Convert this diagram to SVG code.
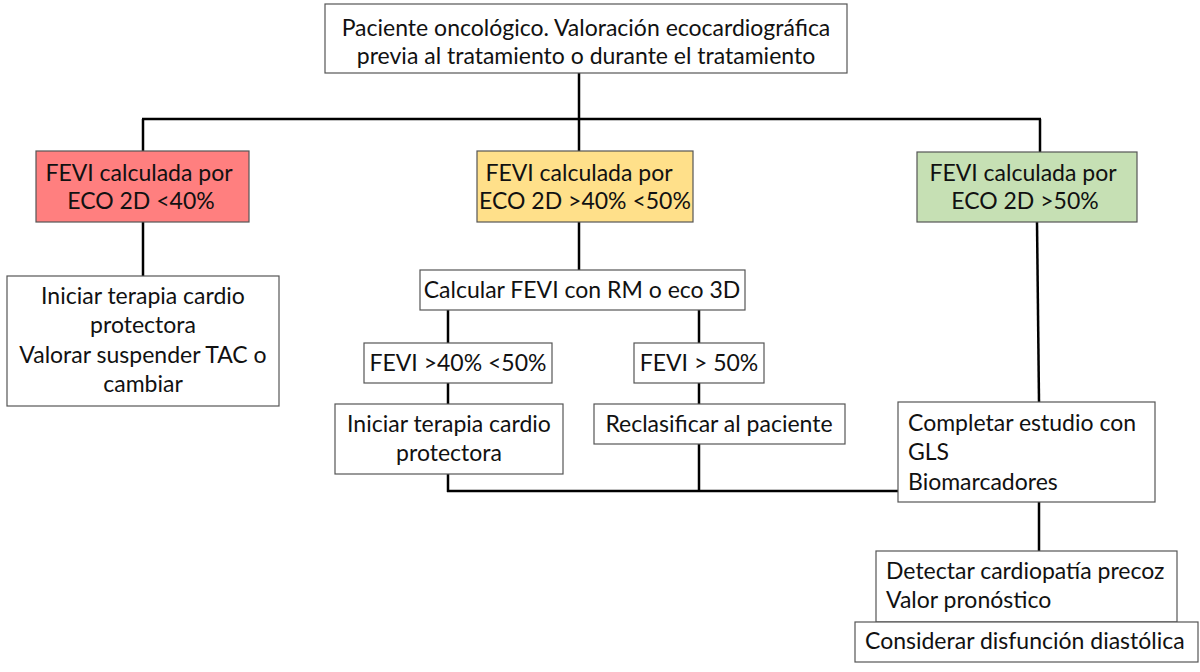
<svg xmlns="http://www.w3.org/2000/svg" width="1200" height="672" viewBox="0 0 1200 672">
<style>
.box{fill:#fff;stroke:#555;stroke-width:1.2}
.red{fill:#FF7F7F}
.yel{fill:#FFE08A}
.grn{fill:#C6E0B4}
text{font-family:Lato,"Liberation Sans",sans-serif;font-size:23px;fill:#111}
.c{text-anchor:middle}
.conn line{stroke:#000;stroke-width:2.5;stroke-linecap:butt}
</style>
<rect width="1200" height="672" fill="#fff"/>
<g class="conn" id="connectors">
<line x1="579" y1="73" x2="579" y2="120"/>
<line x1="142" y1="119" x2="1041" y2="119"/>
<line x1="143" y1="119" x2="143" y2="151"/>
<line x1="579" y1="119" x2="579" y2="151"/>
<line x1="1040" y1="119" x2="1040" y2="152"/>
<line x1="143" y1="222" x2="143" y2="276"/>
<line x1="579" y1="222" x2="579" y2="270"/>
<line x1="448" y1="310" x2="448" y2="343"/>
<line x1="699" y1="310" x2="699" y2="343"/>
<line x1="448" y1="383" x2="448" y2="404"/>
<line x1="699" y1="383" x2="699" y2="404"/>
<line x1="448" y1="474" x2="448" y2="492"/>
<line x1="699" y1="444" x2="699" y2="492"/>
<line x1="447" y1="491" x2="898" y2="491"/>
<line x1="1037" y1="222" x2="1039" y2="402"/>
<line x1="1039" y1="502" x2="1039" y2="551"/>
</g>
<g id="n-top">
<rect class="box" x="325" y="4" width="522" height="69"/>
<text class="c" x="586" y="36">Paciente oncológico. Valoración ecocardiográfica</text>
<text class="c" x="586" y="64">previa al tratamiento o durante el tratamiento</text>
</g>
<g id="n-red">
<rect class="box red" x="36" y="151" width="213" height="71"/>
<text class="c" x="139" y="181">FEVI calculada por</text>
<text class="c" x="141" y="209">ECO 2D &lt;40%</text>
</g>
<g id="n-yellow">
<rect class="box yel" x="477" y="151" width="216" height="71"/>
<text class="c" x="579" y="181">FEVI calculada por</text>
<text class="c" x="585" y="209">ECO 2D &gt;40% &lt;50%</text>
</g>
<g id="n-green">
<rect class="box grn" x="917" y="152" width="220" height="70"/>
<text class="c" x="1023" y="181">FEVI calculada por</text>
<text class="c" x="1025" y="209">ECO 2D &gt;50%</text>
</g>
<g id="n-left">
<rect class="box" x="7" y="276" width="272" height="130"/>
<text class="c" x="143" y="304">Iniciar terapia cardio</text>
<text class="c" x="143" y="333">protectora</text>
<text class="c" x="143" y="363">Valorar suspender TAC o</text>
<text class="c" x="143" y="392">cambiar</text>
</g>
<g id="n-calc">
<rect class="box" x="420" y="270" width="325" height="40"/>
<text class="c" x="582" y="298">Calcular FEVI con RM o eco 3D</text>
</g>
<g id="n-f4050">
<rect class="box" x="364" y="343" width="188" height="40"/>
<text class="c" x="458" y="371">FEVI &gt;40% &lt;50%</text>
</g>
<g id="n-f50">
<rect class="box" x="634" y="343" width="130" height="40"/>
<text class="c" x="699" y="371">FEVI &gt; 50%</text>
</g>
<g id="n-iniciar">
<rect class="box" x="335" y="404" width="228" height="70"/>
<text class="c" x="449" y="432">Iniciar terapia cardio</text>
<text class="c" x="449" y="461">protectora</text>
</g>
<g id="n-reclas">
<rect class="box" x="594" y="404" width="251" height="40"/>
<text class="c" x="719" y="432">Reclasificar al paciente</text>
</g>
<g id="n-completar">
<rect class="box" x="898" y="402" width="257" height="100"/>
<text x="908" y="431">Completar estudio con</text>
<text x="908" y="460">GLS</text>
<text x="908" y="490">Biomarcadores</text>
</g>
<g id="n-detectar">
<rect class="box" x="876" y="551" width="301" height="71"/>
<text x="886" y="579">Detectar cardiopatía precoz</text>
<text x="886" y="608">Valor pronóstico</text>
</g>
<g id="n-considerar">
<rect class="box" x="855" y="622" width="343" height="40"/>
<text x="865" y="649">Considerar disfunción diastólica</text>
</g>
</svg>
